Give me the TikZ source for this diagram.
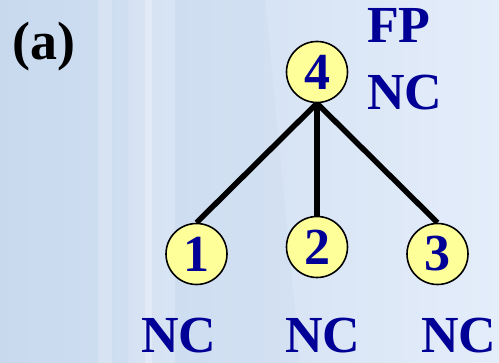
\documentclass[tikz,border=0pt]{standalone}
\usepackage{fontspec}
\setmainfont{Liberation Serif}
\pgfdeclarelayer{bg}
\pgfdeclarelayer{edges}
\pgfsetlayers{bg,edges,main}
\begin{document}
\begin{tikzpicture}[x=1pt,y=-1pt,
  treenode/.style={circle,draw=black,line width=1.6pt,fill=nodeyellow,
    minimum size=61pt,inner sep=0pt,text=navytext,
    font=\fontsize{52}{60}\selectfont\bfseries},
  lbl/.style={anchor=base west,inner sep=0pt,text=navytext,
    font=\fontsize{52}{60}\selectfont\bfseries},
  edge/.style={line width=5.5pt,black}]
\definecolor{nodeyellow}{RGB}{255,255,153}
\definecolor{navytext}{RGB}{0,0,150}
\definecolor{skyL}{RGB}{200,217,238}
\definecolor{skyR}{RGB}{228,237,250}
\useasboundingbox (0,0) rectangle (499,363);

% soft background with faint facade bands
\begin{pgfonlayer}{bg}
\shade[left color=skyL,right color=skyR] (0,0) rectangle (499,363);
\fill[white,opacity=0.2] (98,0) rectangle (112,363);
\fill[white,opacity=0.15] (128,0) rectangle (175,363);
\fill[white,opacity=0.25] (145,0) rectangle (152,363);
\fill[skyL,opacity=0.3] (175,0) -- (265,0) -- (300,363) -- (175,363) -- cycle;
\end{pgfonlayer}

% label
\node[anchor=base west,inner sep=0pt,font=\fontsize{54}{60}\selectfont\bfseries]
  (tag) at (12,60) {(a)};

% tree
\node[treenode] (n4) at (317,72) {4};
\node[treenode] (n1) at (196.5,254) {1};
\node[treenode] (n2) at (317,247) {2};
\node[treenode] (n3) at (437.5,254) {3};
\begin{pgfonlayer}{edges}
\draw[edge] (n4.south) -- (n1.north);
\draw[edge] (n4.south) -- (n2.north);
\draw[edge] (n4.south) -- (n3.north);
\end{pgfonlayer}

% state labels
\node[lbl] (fp4) at (367,43) {FP};
\node[lbl] (nc4) at (367,110) {NC};
\node[lbl] (nc1) at (141,353) {NC};
\node[lbl] (nc2) at (285,353) {NC};
\node[lbl] (nc3) at (421,353) {NC};
\end{tikzpicture}
\end{document}
